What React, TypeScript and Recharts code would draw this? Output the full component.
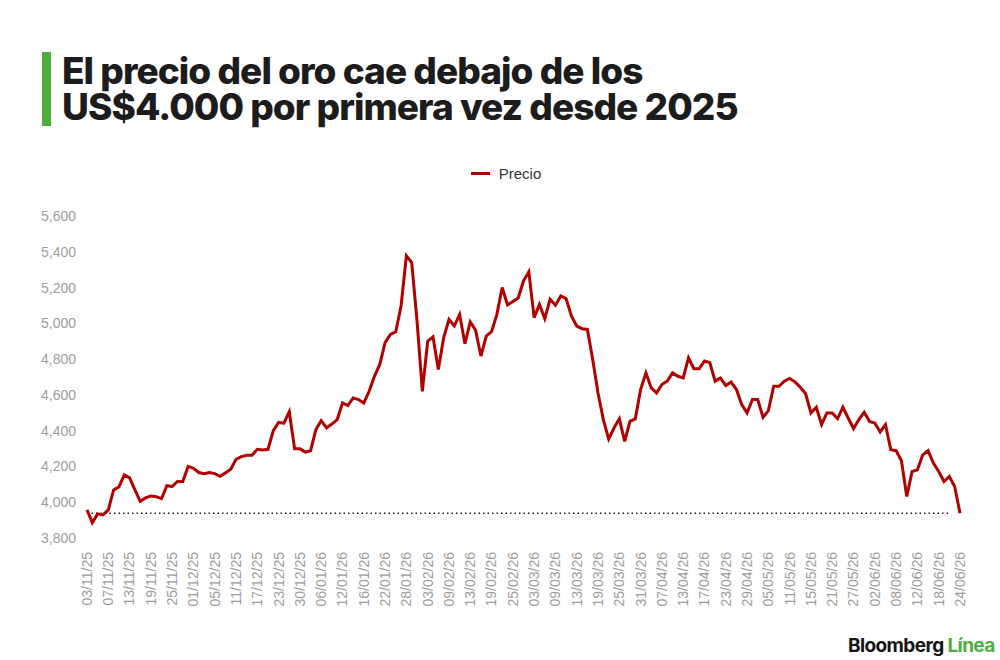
import { LineChart, Line, XAxis, YAxis, ReferenceLine, Legend } from 'recharts'

// fechas de la escala (cada 4 ruedas)
const tickLabels = [
  '03/11/25', '07/11/25', '13/11/25', '19/11/25', '25/11/25', '01/12/25', '05/12/25',
  '11/12/25', '17/12/25', '23/12/25', '30/12/25', '06/01/26', '12/01/26', '16/01/26',
  '22/01/26', '28/01/26', '03/02/26', '09/02/26', '13/02/26', '19/02/26', '25/02/26',
  '03/03/26', '09/03/26', '13/03/26', '19/03/26', '25/03/26', '31/03/26', '07/04/26',
  '13/04/26', '17/04/26', '23/04/26', '29/04/26', '05/05/26', '11/05/26', '15/05/26',
  '21/05/26', '27/05/26', '02/06/26', '08/06/26', '12/06/26', '18/06/26', '24/06/26',
]

// precio del oro, US$ por onza (una rueda por valor)
const precio = [
  3957, 3886, 3935, 3929, 3957, 4069, 4086, 4153, 4136, 4069,
  4005, 4024, 4035, 4031, 4020, 4092, 4088, 4116, 4116, 4200,
  4190, 4166, 4160, 4166, 4160, 4145, 4164, 4185, 4240, 4255,
  4262, 4262, 4296, 4292, 4296, 4400, 4446, 4442, 4506, 4299,
  4299, 4280, 4288, 4406, 4456, 4415, 4437, 4462, 4555, 4540,
  4583, 4574, 4555, 4620, 4704, 4770, 4892, 4938, 4953, 5097,
  5377, 5340, 5013, 4620, 4900, 4925, 4742, 4919, 5022, 4985,
  5050, 4886, 5009, 4961, 4817, 4929, 4953, 5050, 5200, 5103,
  5122, 5142, 5237, 5288, 5032, 5106, 5026, 5134, 5101, 5153,
  5138, 5041, 4985, 4970, 4966, 4798, 4611, 4462, 4353, 4415,
  4466, 4340, 4452, 4466, 4630, 4723, 4639, 4611, 4658, 4677,
  4723, 4704, 4695, 4807, 4746, 4746, 4789, 4780, 4677, 4695,
  4652, 4672, 4630, 4546, 4499, 4574, 4574, 4475, 4512, 4648,
  4648, 4677, 4692, 4673, 4643, 4606, 4499, 4531, 4434, 4499,
  4499, 4467, 4531, 4471, 4411, 4462, 4503, 4452, 4443, 4393,
  4434, 4293, 4288, 4232, 4032, 4172, 4181, 4265, 4288, 4219,
  4172, 4116, 4144, 4088, 3938,
]

const yTicks = [3800, 4000, 4200, 4400, 4600, 4800, 5000, 5200, 5400, 5600]

const data = precio.map((v, i) => ({ i, precio: v }))
const ultimo = precio[precio.length - 1]

const RED = '#b00000'
const GREEN = '#4cae3c'
const AXIS_FONT = '"Liberation Sans", Arial, sans-serif'

const titleLine = {
  position: 'absolute' as const,
  left: 62,
  fontFamily: 'Inter, sans-serif',
  fontWeight: 800,
  fontSize: 37,
  lineHeight: '36px',
  letterSpacing: '-0.95px',
  color: '#1c1c1c',
  whiteSpace: 'nowrap' as const,
}

function DateTick({ x, y, payload }: any) {
  return (
    <text
      x={x}
      y={y}
      dy="0.35em"
      textAnchor="end"
      transform={`rotate(-90, ${x}, ${y})`}
      fill="#9d9d9d"
      fontSize={14}
      fontFamily={AXIS_FONT}
    >
      {tickLabels[Math.round(payload.value / 4)]}
    </text>
  )
}

function LegendContent() {
  return (
    <div style={{ display: 'flex', justifyContent: 'center', alignItems: 'center', fontFamily: AXIS_FONT, fontSize: 15, color: '#333', paddingLeft: 12 }}>
      <span style={{ display: 'inline-block', width: 19, height: 3, background: RED, marginRight: 9 }} />
      Precio
    </div>
  )
}

export default function App() {
  return (
    <div style={{ position: 'absolute', left: 0, top: 0, width: 1000, height: 660, background: '#fff', overflow: 'hidden' }}>
      <div style={{ position: 'absolute', left: 42, top: 52, width: 9, height: 74, background: GREEN }} />
      <div style={{ ...titleLine, top: 53 }}>El precio del oro cae debajo de los</div>
      <div style={{ ...titleLine, top: 89 }}>US$4.000 por primera vez desde 2025</div>

      <LineChart width={1000} height={660} data={data} margin={{ top: 199, right: 40, bottom: 42, left: 27 }}>
        <Legend verticalAlign="top" content={<LegendContent />} wrapperStyle={{ top: 165, left: 0, width: 1000 }} />
        <XAxis
          dataKey="i"
          type="number"
          domain={[0, 164]}
          ticks={tickLabels.map((_, k) => k * 4)}
          interval={0}
          height={80}
          axisLine={false}
          tickLine={false}
          tickSize={0}
          tickMargin={14}
          tick={<DateTick />}
        />
        <YAxis
          domain={[3800, 5600]}
          ticks={yTicks}
          width={60}
          axisLine={false}
          tickLine={false}
          tickSize={0}
          tickMargin={11}
          tickFormatter={(v: number) => v.toLocaleString('en-US')}
          tick={{ fill: '#9d9d9d', fontSize: 14, fontFamily: AXIS_FONT }}
        />
        <ReferenceLine
          segment={[{ x: 0, y: ultimo }, { x: 162, y: ultimo }]}
          stroke="#222"
          strokeWidth={1.5}
          strokeDasharray="1.5 3"
        />
        <Line
          type="linear"
          dataKey="precio"
          name="Precio"
          stroke={RED}
          strokeWidth={3}
          dot={false}
          isAnimationActive={false}
        />
      </LineChart>

      <div
        style={{
          position: 'absolute',
          left: 848,
          top: 634,
          fontFamily: 'Inter, sans-serif',
          fontWeight: 700,
          fontSize: 19,
          lineHeight: '24px',
          letterSpacing: '-0.6px',
          color: '#151515',
          whiteSpace: 'nowrap',
        }}
      >
        Bloomberg <span style={{ color: GREEN }}>Línea</span>
      </div>
    </div>
  )
}
